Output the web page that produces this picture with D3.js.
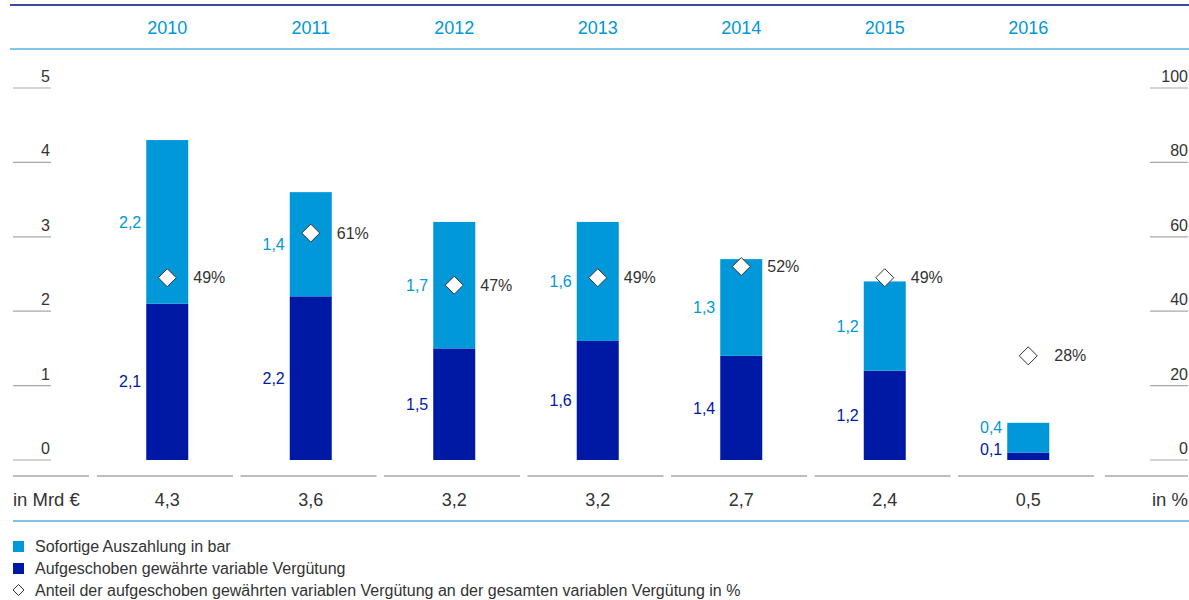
<!DOCTYPE html>
<html><head><meta charset="utf-8">
<script src="https://cdn.jsdelivr.net/npm/d3@7"></script>
<style>body{margin:0;background:#fff}svg{display:block;font-family:"Liberation Sans",Arial,sans-serif}</style>
</head><body>
<script>
const years = ["2010","2011","2012","2013","2014","2015","2016"];
const cashValues = [2.2,1.4,1.7,1.6,1.3,1.2,0.4];
const deferredValues = [2.1,2.2,1.5,1.6,1.4,1.2,0.1];
const totalLabels = ["4,3","3,6","3,2","3,2","2,7","2,4","0,5"];
const shareValues = [49,61,47,49,52,49,28];
const leftTicks = [0,1,2,3,4,5];
const rightTicks = [0,20,40,60,80,100];
const legendLabels = ["Sofortige Auszahlung in bar","Aufgeschoben gewährte variable Vergütung","Anteil der aufgeschoben gewährten variablen Vergütung an der gesamten variablen Vergütung in %"];

const W=1189,H=600;
const LIGHT="#0098d8", DARK="#0019a5", GRAY="#a8a8a8", TXT="#333";
const svg=d3.select("body").append("svg").attr("width",W).attr("height",H);
const fmt=v=>String(v).replace(".",",");

const x=d3.scaleBand().domain(years).range([95.5,1100]).paddingInner(0).paddingOuter(0);
const y=d3.scaleLinear().domain([0,5]).range([460,88]);
const y2=d3.scaleLinear().domain([0,100]).range([460,88]);
const barW=42;

// header lines
svg.append("line").attr("x1",10).attr("x2",W).attr("y1",5).attr("y2",5).attr("stroke","#3a47a6").attr("stroke-width",2);
svg.append("line").attr("x1",10).attr("x2",W).attr("y1",49).attr("y2",49).attr("stroke","#7cc7ea").attr("stroke-width",2);
svg.selectAll("text.year").data(years).join("text").attr("class","year")
  .attr("x",d=>x(d)+x.bandwidth()/2).attr("y",28).attr("dy","0.35em").attr("text-anchor","middle")
  .attr("fill",LIGHT).attr("font-size",18).text(d=>d);

// left axis
const la=svg.append("g");
la.selectAll("line").data(leftTicks).join("line").attr("x1",13).attr("x2",51)
  .attr("y1",d=>y(d)).attr("y2",d=>y(d)).attr("stroke",GRAY).attr("stroke-width",1.2);
la.selectAll("text").data(leftTicks).join("text").attr("x",50).attr("y",d=>y(d)-6)
  .attr("text-anchor","end").attr("fill",TXT).attr("font-size",16).text(d=>d);
// right axis
const ra=svg.append("g");
ra.selectAll("line").data(rightTicks).join("line").attr("x1",1150).attr("x2",1188)
  .attr("y1",d=>y2(d)).attr("y2",d=>y2(d)).attr("stroke",GRAY).attr("stroke-width",1.2);
ra.selectAll("text").data(rightTicks).join("text").attr("x",1188).attr("y",d=>y2(d)-6)
  .attr("text-anchor","end").attr("fill",TXT).attr("font-size",16).text(d=>d);

// bars
const data=years.map((yr,i)=>({yr,cash:cashValues[i],def:deferredValues[i],tot:totalLabels[i],pct:shareValues[i]}));
const g=svg.append("g");
data.forEach(d=>{
  const cx=x(d.yr)+x.bandwidth()/2;
  const x0=cx-barW/2;
  g.append("rect").attr("x",x0).attr("width",barW).attr("y",y(d.def)).attr("height",y(0)-y(d.def)).attr("fill",DARK);
  g.append("rect").attr("x",x0).attr("width",barW).attr("y",y(d.def+d.cash)).attr("height",y(d.def)-y(d.def+d.cash)).attr("fill",LIGHT);
  let dy=Math.min((y(0)+y(d.def))/2, y(0)-11);
  let ly=Math.min((y(d.def)+y(d.def+d.cash))/2, dy-22);
  g.append("text").attr("x",x0-5).attr("y",ly).attr("dy","0.35em").attr("text-anchor","end").attr("fill",LIGHT).attr("font-size",16).text(fmt(d.cash));
  g.append("text").attr("x",x0-5).attr("y",dy).attr("dy","0.35em").attr("text-anchor","end").attr("fill",DARK).attr("font-size",16).text(fmt(d.def));
  const py=y2(d.pct);
  g.append("path").attr("d",`M${cx},${py-9}L${cx+9},${py}L${cx},${py+9}L${cx-9},${py}Z`).attr("fill","#fff").attr("stroke","#333").attr("stroke-width",1);
  g.append("text").attr("x",cx+26).attr("y",py).attr("dy","0.35em").attr("fill",TXT).attr("font-size",16).text(d.pct+"%");
});

// bottom separators
const segs=[[13,89],...years.map(yr=>[x(yr)+1.5,x(yr)+x.step()-6]),[1105,1188]];
svg.selectAll("line.sep").data(segs).join("line").attr("class","sep")
  .attr("x1",d=>d[0]).attr("x2",d=>d[1]).attr("y1",476).attr("y2",476).attr("stroke",GRAY).attr("stroke-width",1.5);
// totals row
svg.append("text").attr("x",13).attr("y",500).attr("dy","0.35em").attr("fill",TXT).attr("font-size",18.5).text("in Mrd €");
svg.append("text").attr("x",1188).attr("y",500).attr("dy","0.35em").attr("text-anchor","end").attr("fill",TXT).attr("font-size",18.5).text("in %");
svg.selectAll("text.tot").data(data).join("text").attr("class","tot")
  .attr("x",d=>x(d.yr)+x.bandwidth()/2).attr("y",500).attr("dy","0.35em").attr("text-anchor","middle")
  .attr("fill",TXT).attr("font-size",18).text(d=>d.tot);
svg.append("line").attr("x1",13).attr("x2",W).attr("y1",521).attr("y2",521).attr("stroke","#4bb1e3").attr("stroke-width",1.5);

// legend
const lg=svg.append("g");
const ly0=546, lstep=22;
lg.append("rect").attr("x",13).attr("y",ly0-5).attr("width",11).attr("height",11).attr("fill",LIGHT);
lg.append("rect").attr("x",13).attr("y",ly0+lstep-5).attr("width",11).attr("height",11).attr("fill",DARK);
const dy3=ly0+2*lstep;
lg.append("path").attr("d",`M18.5,${dy3-5.5}L24,${dy3}L18.5,${dy3+5.5}L13,${dy3}Z`).attr("fill","#fff").attr("stroke","#333");
lg.selectAll("text").data(legendLabels).join("text").attr("x",35).attr("y",(d,i)=>ly0+i*lstep).attr("dy","0.35em")
  .attr("fill",TXT).attr("font-size",16).text(d=>d);
</script>
</body></html>
